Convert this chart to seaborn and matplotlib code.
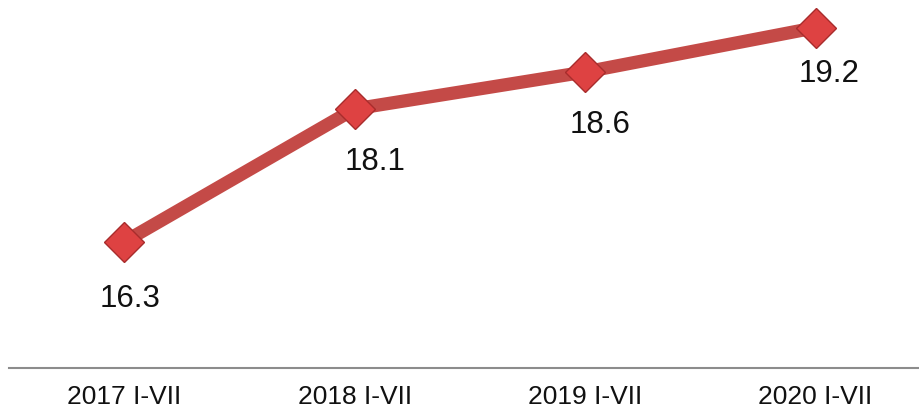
import matplotlib
matplotlib.use("Agg")
import matplotlib.pyplot as plt
import seaborn as sns
import pandas as pd

# data
periods = ["2017 I-VII", "2018 I-VII", "2019 I-VII", "2020 I-VII"]
values = [16.3, 18.1, 18.6, 19.2]
labels = ["16.3", "18.1", "18.6", "19.2"]

df = pd.DataFrame({"period": periods, "value": values})

sns.set_style("white")
plt.rcParams['font.family'] = ['Liberation Sans', 'DejaVu Sans']

fig = plt.figure(figsize=(9.2, 4.08), dpi=100)
ax = fig.add_axes([9 / 920, 1 - 368 / 408, 911 / 920, 368 / 408])

sns.lineplot(data=df, x="period", y="value", ax=ax, sort=False,
             color="#C44A47", linewidth=9.5, marker="D", markersize=20,
             markerfacecolor="#DE4242", markeredgecolor="#A82C2C",
             markeredgewidth=1, clip_on=False)

# value labels under each point
offsets = [(4, -41), (15, -38), (11, -38), (10, -33)]
for i, (v, lab) in enumerate(zip(values, labels)):
    ax.annotate(lab, (i, v), xytext=offsets[i], textcoords="offset points",
                ha="center", va="center", fontsize=22.5, color="#111111")

ax.set_xlim(-0.5, 3.453)
ax.set_ylim(14.59, 19.575)
ax.set_xlabel("")
ax.set_ylabel("")
ax.set_yticks([])
ax.tick_params(axis="x", length=0, pad=12, labelsize=19, labelcolor="#111111")

for side in ["top", "left", "right"]:
    ax.spines[side].set_visible(False)
ax.spines["bottom"].set_color("#8C8C8C")
ax.spines["bottom"].set_linewidth(1.5)

fig.savefig("out.png", dpi=100)
